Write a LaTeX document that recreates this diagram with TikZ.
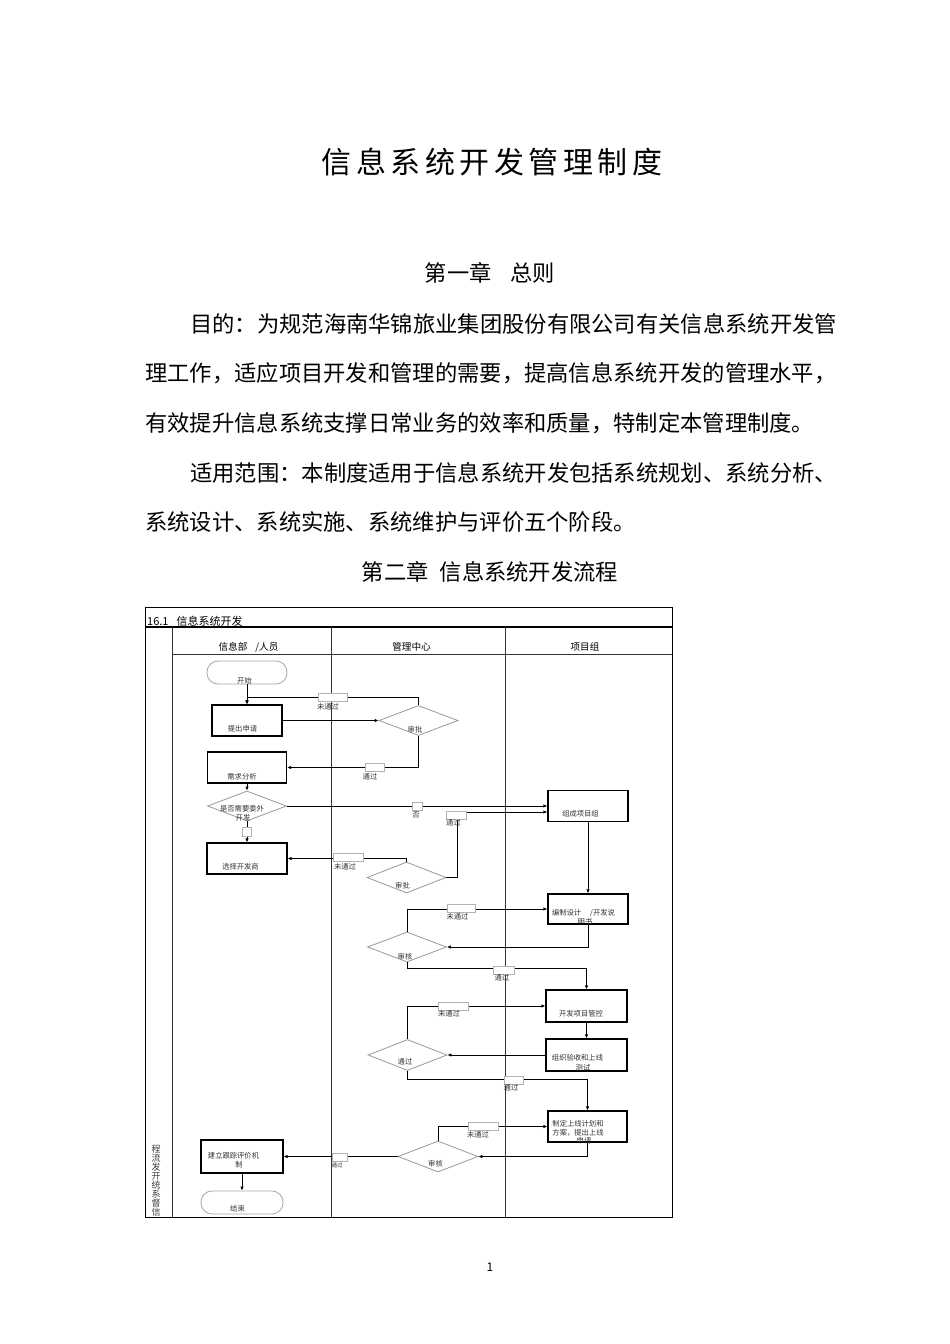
\documentclass[tikz,border=0pt]{standalone}
\usepackage{fontspec}
\setmainfont{Noto Sans CJK SC}
\newfontfamily\titlefont[LetterSpace=15]{Noto Sans CJK SC}
\usetikzlibrary{shapes.geometric, arrows.meta, positioning, calc}

\begin{document}
\begin{tikzpicture}[
    x=1pt, y=-1pt,
    box/.style={rectangle, draw, line width=1.2pt, inner sep=0pt},
    term/.style={rectangle, rounded corners=11pt, draw=gray!70, line width=0.8pt, inner sep=0pt},
    decision/.style={diamond, draw=gray!80, line width=0.8pt, inner sep=0pt, minimum width=79pt, minimum height=30pt},
    tag/.style={rectangle, draw=gray!60, fill=white, line width=0.6pt, inner sep=0pt, minimum height=8pt},
    txt/.style={font=\fontsize{7.3}{8.5}\selectfont, inner sep=0pt, text=black!80},
    lane/.style={font=\fontsize{9.6}{11}\selectfont, inner sep=0pt},
    body/.style={font=\fontsize{22.3}{26}\selectfont, inner sep=0pt, anchor=west},
    line/.style={draw, line width=0.9pt, -{Latex[length=4pt,width=3.5pt]}}
]
    \useasboundingbox[fill=white] (0,0) rectangle (950,1344);

    % Page text
    \node[font=\titlefont\fontsize{30}{34}\selectfont, inner sep=0pt] (title) at (492,162) {信息系统开发管理制度};
    \node[font=\fontsize{22.3}{26}\selectfont, inner sep=0pt] (chap1) at (490,273) {第一章\hspace{19pt}总则};
    \node[body] (aim1) at (190,324) {目的：为规范海南华锦旅业集团股份有限公司有关信息系统开发管};
    \node[body] (aim2) at (145,373) {理工作，适应项目开发和管理的需要，提高信息系统开发的管理水平，};
    \node[body] (aim3) at (145,423) {有效提升信息系统支撑日常业务的效率和质量，特制定本管理制度。};
    \node[body] (scope1) at (190,473) {适用范围：本制度适用于信息系统开发包括系统规划、系统分析、};
    \node[body] (scope2) at (145,522) {系统设计、系统实施、系统维护与评价五个阶段。};
    \node[font=\fontsize{22.3}{26}\selectfont, inner sep=0pt] (chap2) at (490,572) {第二章\hspace{11pt}信息系统开发流程};
    \node[font=\fontsize{12}{14}\selectfont, inner sep=0pt] (pageno) at (490,1267) {1};

    % Frame and lanes
    \draw[line width=1pt] (145,607) rectangle (672,1217);
    \draw[line width=1.6pt] (145,627) -- (672,627);
    \foreach \x in {172,331,505}
        \draw[line width=0.9pt, black!80] (\x,627) -- (\x,1217);
    \draw[line width=0.9pt, black!80] (172,654) -- (672,654);
    \node[anchor=west, font=\fontsize{11}{12}\selectfont, inner sep=0pt] (sec) at (147,621) {16.1\hspace{8pt}信息系统开发};
    \node[lane] (infolane) at (248.5,647) {信息部\hspace{8pt}/人员};
    \node[lane] (mgmtlane) at (411.5,647) {管理中心};
    \node[lane] (projlane) at (585,647) {项目组};
    \node[font=\fontsize{9}{9}\selectfont, align=center, anchor=north, inner sep=0pt, text=black!75] (side) at (156,1145) {程\\流\\发\\开\\统\\系\\督\\信};

    % Start and end
    \node[term, minimum width=80pt, minimum height=23pt] (start) at (247,672.5) {};
    \node[txt] (startt) at (244.5,681) {开始};
    \node[term, minimum width=82pt, minimum height=23pt] (stop) at (242,1202.5) {};
    \node[txt] (stopt) at (237.5,1209) {结束};

    % Process boxes
    \node[box, minimum width=70pt, minimum height=31pt] (apply) at (247,720.5) {};
    \node[txt] (applyt) at (242.5,729) {提出申请};
    \node[box, minimum width=79pt, minimum height=31pt] (analysis) at (247,767.5) {};
    \node[txt] (analysist) at (242,777) {需求分析};
    \node[box, minimum width=80pt, minimum height=31pt] (vendor) at (247,858.5) {};
    \node[txt] (vendort) at (240.5,867) {选择开发商};
    \node[box, minimum width=80pt, minimum height=31pt] (team) at (588,806) {};
    \node[txt] (teamt) at (580.5,814) {组成项目组};
    \node[box, minimum width=80pt, minimum height=30pt] (spec) at (588,909) {};
    \node[txt] (spect) at (583.5,913) {编制设计\hspace{9pt}/开发说};
    \node[txt] (spect2) at (585,921.5) {明书};
    \node[box, minimum width=81pt, minimum height=32pt] (ctrl) at (586.5,1006) {};
    \node[txt] (ctrlt) at (581,1014) {开发项目管控};
    \node[box, minimum width=81pt, minimum height=32pt] (accept) at (586.5,1055) {};
    \node[txt] (acceptt) at (577.5,1058) {组织验收和上线};
    \node[txt] (acceptt2) at (583,1068) {测试};
    \node[box, minimum width=79pt, minimum height=31pt] (plan) at (587.5,1126.5) {};
    \node[txt] (plant) at (578,1124) {制定上线计划和};
    \node[txt] (plant2) at (578,1132.5) {方案，提出上线};
    \node[txt] (plant3) at (584,1141) {申请};
    \node[box, minimum width=82pt, minimum height=33pt] (track) at (242,1156.5) {};
    \node[txt] (trackt) at (233.5,1156) {建立跟踪评价机};
    \node[txt] (trackt2) at (239,1164.5) {制};

    % Decisions
    \node[decision] (approve) at (418.5,720.5) {};
    \node[txt] (approvet) at (415,730) {审批};
    \node[decision] (outsrc) at (247,806) {};
    \node[txt] (outsrct) at (242,809) {是否需要委外};
    \node[txt] (outsrct2) at (243,818) {开发};
    \node[decision, minimum height=31pt] (approve2) at (406.5,877.5) {};
    \node[txt] (approve2t) at (402.5,885.5) {审批};
    \node[decision] (check) at (407,947) {};
    \node[txt] (checkt) at (405,957) {审核};
    \node[decision, minimum height=31pt] (test) at (407.5,1055) {};
    \node[txt] (testt) at (405,1062) {通过};
    \node[decision, minimum width=80pt, minimum height=31pt] (final) at (438,1156.5) {};
    \node[txt] (finalt) at (435.5,1164) {审核};

    % Application and approval
    \path[line] (start) -- (apply);
    \path[line] (apply) -- (approve);
    \draw[line] (approve.north) -- ++(0,-8) -| (apply.north);
    \draw[line] (approve.south) |- (analysis.east);
    \path[line] (analysis) -- (outsrc);

    % Outsourcing decision
    \path[line] (outsrc) -- (team);
    \path[line] (outsrc) -- (vendor);
    \draw[line] (approve2.north) |- (vendor.east);
    \draw[line] (approve2.east) -- ++(11,0) |- ([yshift=-6pt]team.west);

    % Design, development and acceptance
    \path[line] (team) -- (spec);
    \draw[line] (spec.south) |- (check.east);
    \draw[line] (check.north) |- (spec.west);
    \draw[line] (check.south) -- ++(0,6) -| (ctrl.north);
    \path[line] (ctrl) -- (accept);
    \path[line] (accept) -- (test);
    \draw[line] (test.north) |- (ctrl.west);
    \draw[line] (test.south) -- ++(0,8.5) -| (plan.north);

    % Go-live review
    \draw[line] (plan.south) |- (final.east);
    \draw[line] (final.north) |- (plan.west);
    \path[line] (final) -- (track);
    \path[line] (track) -- (stop);

    % Condition tags
    \node[tag, minimum width=29pt] (fail1) at (332.5,697) {};
    \node[txt] (fail1t) at (328,707) {未通过};
    \node[tag, minimum width=19pt] (pass1) at (374.5,767.5) {};
    \node[txt] (pass1t) at (370,777) {通过};
    \node[tag, minimum width=10pt] (no) at (417,806) {};
    \node[txt] (not) at (416,815) {否};
    \node[tag, minimum width=9pt, minimum height=9pt] (yes) at (246.5,832) {};
    \node[tag, minimum width=30pt] (fail2) at (348,857.5) {};
    \node[txt] (fail2t) at (345,867) {未通过};
    \node[tag, minimum width=20pt] (pass2) at (456,815) {};
    \node[txt] (pass2t) at (453.5,823) {通过};
    \node[tag, minimum width=28pt] (fail3) at (461,908.5) {};
    \node[txt] (fail3t) at (457.5,917) {未通过};
    \node[tag, minimum width=21pt] (pass3) at (503.5,970) {};
    \node[txt] (pass3t) at (502,978) {通过};
    \node[tag, minimum width=30pt] (fail4) at (453,1006) {};
    \node[txt] (fail4t) at (449,1014) {未通过};
    \node[tag, minimum width=19pt] (pass4) at (513.5,1080.5) {};
    \node[txt] (pass4t) at (511,1088) {通过};
    \node[tag, minimum width=30pt] (fail5) at (483,1126.5) {};
    \node[txt] (fail5t) at (478,1135) {未通过};
    \node[tag, minimum width=15pt] (pass5) at (339.5,1157) {};
    \node[txt, font=\fontsize{5.5}{6}\selectfont] (pass5t) at (337,1165) {通过};

\end{tikzpicture}
\end{document}
